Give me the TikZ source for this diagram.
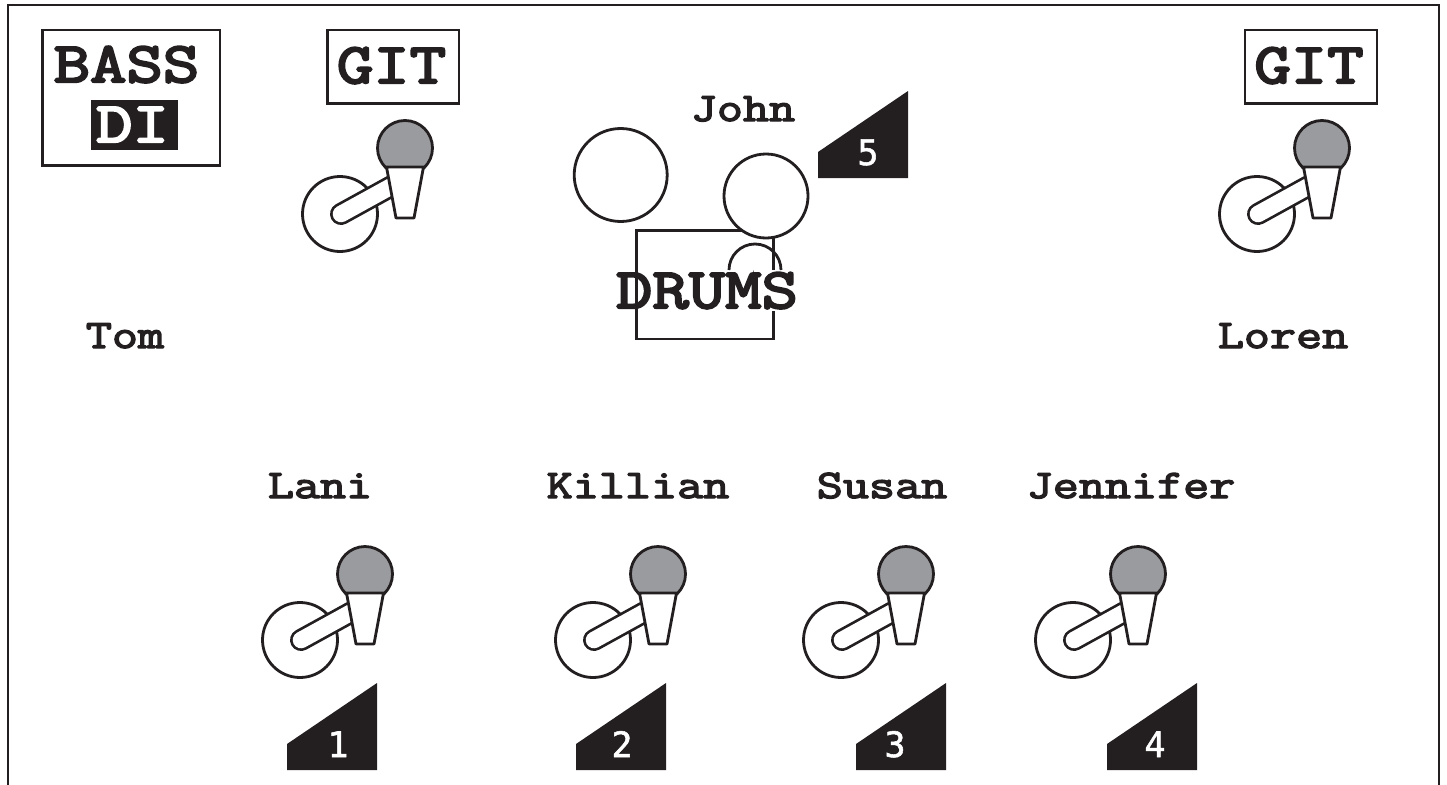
\documentclass[tikz,border=0pt]{standalone}
\usepackage{fontspec}
\newfontfamily\slabbig[FakeBold=4,FakeStretch=1.24]{Latin Modern Mono}
\newfontfamily\slabname[FakeBold=3.5,FakeStretch=1.25]{Latin Modern Mono}
\newfontfamily\digitfont[FakeBold=1.5]{DejaVu Sans Mono}
\definecolor{ink}{HTML}{231F20}
\definecolor{capgray}{HTML}{9A9B9E}
\tikzset{
  linework/.style={draw=ink,line width=2.8pt},
  namelabel/.style={anchor=base,text=ink,inner sep=0pt,font=\fontsize{40.5}{40}\selectfont\slabname},
  biglabel/.style={anchor=base,text=ink,inner sep=0pt,font=\fontsize{57}{57}\selectfont\slabbig},
  numlabel/.style={anchor=base,text=white,inner sep=0pt,font=\fontsize{35}{35}\selectfont\digitfont},
  micstand/.pic={
    \draw[linework,fill=white] (-65,66) circle (37.5);
    \draw[ink,line width=22pt,line cap=round] (-64,66) -- (-7,34.6);
    \draw[white,line width=16.6pt,line cap=round] (-64,66) -- (-7,34.6);
    \draw[linework,fill=capgray] (0,0) circle (27.5);
    \draw[linework,fill=white,line join=round] (-18.5,19) -- (18.5,19) -- (9,70) -- (-9,70) -- cycle;
  },
}
\newcommand{\wedgeshape}[4]{%
  \fill[ink] (#1,#2+61) -- (#1+90,#2) -- (#1+90,#2+87) -- (#1,#2+87) -- cycle;
  \node[numlabel] (#3) at (#4,#2+74) {#3};
}
\begin{document}
\begin{tikzpicture}[x=1pt,y=-1pt]
\useasboundingbox (0,0) rectangle (1447,784);
% frame
\draw[linework] (8,790) -- (8,5) -- (1439,5) -- (1439,790);
% bass
\draw[linework] (42.3,30) rectangle (220,165.7);
\fill[ink] (91,100) rectangle (177.7,149.7);
\node[biglabel] (bass) at (126.5,82) {BASS};
\node[biglabel,text=white] (di) at (132.5,142) {DI};
% git
\draw[linework] (327.3,30) rectangle (459,103.7);
\node[biglabel] (gitl) at (391.5,83) {GIT};
\draw[linework] (1245,30) rectangle (1377,103.7);
\node[biglabel] (gitr) at (1309,83) {GIT};
% mics
\pic at (405,148) {micstand};
\pic at (1322,148) {micstand};
\pic at (365,574) {micstand};
\pic at (658,574) {micstand};
\pic at (906,574) {micstand};
\pic at (1138,574) {micstand};
% drums
\draw[linework,line join=miter] (773.3,270) -- (773.3,230.7) -- (636.7,230.7) -- (636.7,339) -- (773.3,339) -- (773.3,311);
\draw[linework,fill=white] (620.7,175) circle (46.5);
\draw[linework,fill=white] (766,196) circle (42);
\draw[linework] (729,270) arc (180:360:26);
\node[biglabel] (drums) at (707,308) {DRUMS};
% names
\node[namelabel] (john) at (743,121) {John};
\node[namelabel] (tom) at (125,348) {Tom};
\node[namelabel] (loren) at (1283,348) {Loren};
\node[namelabel] (lani) at (320,498) {Lani};
\node[namelabel] (killian) at (638,498) {Killian};
\node[namelabel] (susan) at (882,498) {Susan};
\node[namelabel] (jennifer) at (1131,498) {Jennifer};
% wedges
\wedgeshape{287}{683}{1}{338}
\wedgeshape{576}{683}{2}{622}
\wedgeshape{856}{683}{3}{895}
\wedgeshape{1107}{683}{4}{1155}
\wedgeshape{818}{91}{5}{868}
\end{tikzpicture}
\end{document}
